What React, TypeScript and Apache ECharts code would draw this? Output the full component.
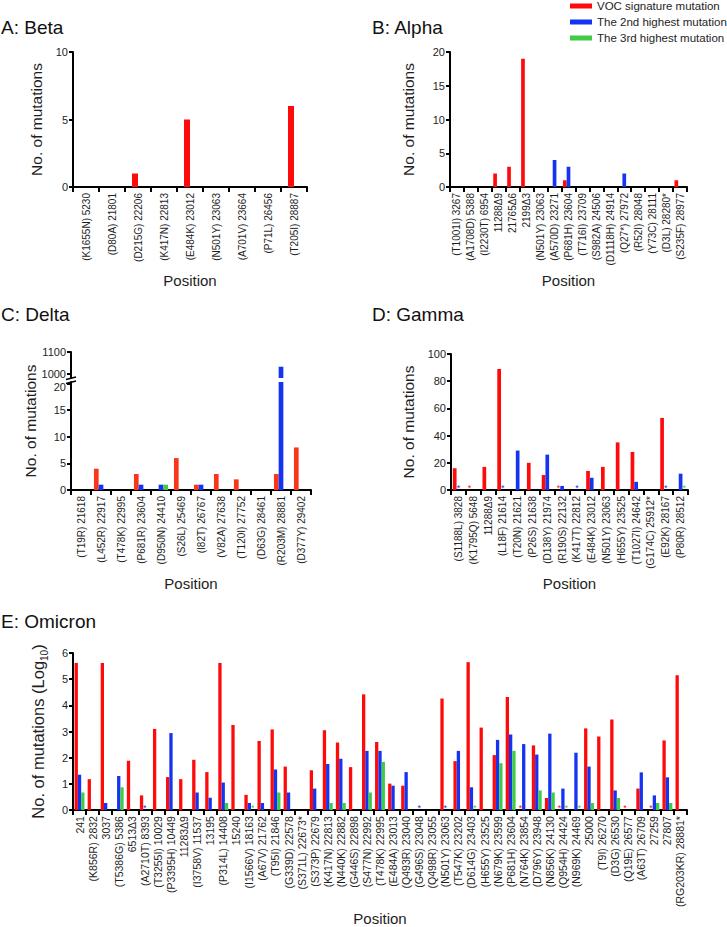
import React, { useEffect, useRef } from 'react';
import * as echarts from 'echarts';

const FONT = 'Liberation Sans, Arial, Helvetica, sans-serif';
const RED = '#ff0a0a';
const RED_DELTA = '#f7361c';
const BLUE = '#1434f2';
const GREEN = '#3fcb45';
const TEXT = '#1e1e1e';
const NAMES = ['VOC signature mutation', 'The 2nd highest mutation', 'The 3rd highest mutation'];

// ---------- A: Beta ----------
const betaCats = ['(K1655N) 5230', '(D80A) 21801', '(D215G) 22206', '(K417N) 22813', '(E484K) 23012', '(N501Y) 23063', '(A701V) 23664', '(P71L) 26456', '(T205I) 28887'];
const betaVOC = [0, 0, 1, 0, 5, 0, 0, 0, 6];
const betaSecond = [0, 0, 0, 0, 0, 0, 0, 0, 0];

// ---------- B: Alpha ----------
const alphaCats = ['(T1001I) 3267', '(A1708D) 5388', '(I2230T) 6954', '11288Δ9', '21765Δ6', '2199Δ3', '(N501Y) 23063', '(A570D) 23271', '(P681H) 23604', '(T716I) 23709', '(S982A) 24506', '(D1118H) 24914', '(Q27*) 27972', '(R52I) 28048', '(Y73C) 28111', '(D3L) 28280*', '(S235F) 28977'];
const alphaVOC = [0, 0, 0, 2, 3, 19, 0, 0, 1, 0, 0, 0, 0, 0, 0, 0, 1];
const alphaSecond = [0, 0, 0, 0, 0, 0, 0, 4, 3, 0, 0, 0, 2, 0, 0, 0, 0];
const alphaThird = [0, 0, 0, 0, 0, 0, 0, 0, 0, 0, 0, 0, 0, 0, 0, 0, 0];

// ---------- C: Delta ----------
const deltaCats = ['(T19R) 21618', '(L452R) 22917', '(T478K) 22995', '(P681R) 23604', '(D950N) 24410', '(S26L) 25469', '(I82T) 26767', '(V82A) 27638', '(T120I) 27752', '(D63G) 28461', '(R203M) 28881', '(D377Y) 29402'];
const deltaVOC = [0, 4, 0, 3, 0, 6, 1, 3, 2, 0, 3, 8];
const deltaSecond = [0, 1, 0, 1, 1, 0, 1, 0, 0, 0, 1032, 0];
const deltaThird = [0, 0, 0, 0, 1, 0, 0, 0, 0, 0, 0, 0];
const deltaUpperTicks = [1000, 1100];
const deltaLowerTicks = [0, 5, 10, 15, 20];

// ---------- D: Gamma ----------
const gammaCats = ['(S1188L) 3828', '(K1795Q) 5648', '11288Δ9', '(L18F) 21614', '(T20N) 21621', '(P26S) 21638', '(D138Y) 21974', '(R190S) 22132', '(K417T) 22812', '(E484K) 23012', '(N501Y) 23063', '(H655Y) 23525', '(T1027I) 24642', '(G174C) 25912*', '(E92K) 28167', '(P80R) 28512'];
const gammaVOC = [16, 0, 17, 89, 0, 20, 11, 0, 0, 14, 17, 35, 28, 0, 53, 0];
const gammaSecond = [0, 0, 0, 0, 29, 0, 26, 3, 0, 9, 0, 0, 6, 0, 0, 12];
const gammaThird = [0, 0, 0, 0, 0, 0, 0, 0, 0, 0, 0, 0, 0, 0, 0, 0];
const gammaRedStars = ['(K1795Q) 5648', '(R190S) 22132'];
const gammaBlueStars = ['(S1188L) 3828', '(L18F) 21614', '(K417T) 22812', '(E92K) 28167'];
const gammaGreenStars = ['(P80R) 28512'];

// ---------- E: Omicron ----------
const omicronCats = ['241', '(K856R) 2832', '3037', '(T5386G) 5386', '6513Δ3', '(A2710T) 8393', '(T3255I) 10029', '(P3395H) 10449', '11283Δ9', '(I3758V) 11537', '13195', '(P314L) 14408', '15240', '(I1566V) 18163', '(A67V) 21762', '(T95I) 21846', '(G339D) 22578', '(S371L) 22673*', '(S373P) 22679', '(K417N) 22813', '(N440K) 22882', '(G446S) 22898', '(S477N) 22992', '(T478K) 22995', '(E484A) 23013', '(Q493R) 23040', '(G496S) 23048', '(Q498R) 23055', '(N501Y) 23063', '(T547K) 23202', '(D614G) 23403', '(H655Y) 23525', '(N679K) 23599', '(P681H) 23604', '(N764K) 23854', '(D796Y) 23948', '(N856K) 24130', '(Q954H) 24424', '(N969K) 24469', '25000', '(T9I) 26270', '(D3G) 26530', '(Q19E) 26577', '(A63T) 26709', '27259', '27807', '(RG203KR) 28881*'];
const omicronVOC = [5.62, 1.18, 5.62, 0, 1.88, 0.56, 3.1, 1.26, 1.18, 1.92, 1.45, 5.62, 3.25, 0.58, 2.64, 3.08, 1.66, 0, 1.52, 3.05, 2.58, 1.64, 4.42, 2.6, 1.01, 0.93, 0, 0, 4.26, 1.87, 5.65, 3.15, 2.1, 4.32, 0, 2.47, 0.46, 0, 0, 3.12, 2.81, 3.46, 0, 0.82, 0, 2.66, 5.15];
const omicronSecond = [1.35, 0, 0.27, 1.3, 0, 0, 0, 2.94, 0, 0.67, 0.47, 1.05, 0, 0.27, 0.27, 1.55, 0.67, 0, 0.82, 1.76, 1.96, 0, 2.26, 2.26, 0.93, 1.45, 0, 0, 0, 2.26, 0.87, 0, 2.68, 2.89, 2.52, 2.12, 2.92, 0.82, 2.19, 1.66, 0, 0.75, 0, 1.44, 0.56, 1.25, 0];
const omicronThird = [0.67, 0, 0, 0.87, 0, 0, 0, 0, 0, 0, 0, 0.27, 0, 0, 0, 0.67, 0, 0, 0, 0.27, 0.27, 0, 0.67, 1.84, 0, 0, 0, 0, 0, 0, 0, 0, 1.79, 2.26, 0, 0.75, 0.67, 0, 0, 0.27, 0, 0.46, 0, 0, 0.27, 0.27, 0];
const omicronRedStars = ['(N764K) 23854', '(Q954H) 24424', '(Q19E) 26577', '27259'];
const omicronBlueStars = ['(A2710T) 8393', '(G496S) 23048', '(N501Y) 23063'];
const omicronGreenStars = ['(I1566V) 18163', '(D614G) 23403', '(Q954H) 24424', '(N969K) 24469'];

function barSeries(name: string, color: string, values: (number | string)[], cats: string[], stars: string[], xi: number, yi: number, barWidth: number) {
  return {
    type: 'bar',
    name,
    xAxisIndex: xi,
    yAxisIndex: yi,
    barWidth,
    barGap: '0%',
    clip: true,
    itemStyle: { color },
    data: values.map((v, i) =>
      stars.indexOf(cats[i]) >= 0
        ? { value: v, label: { show: true, formatter: '*', position: 'inside', color, fontSize: 9, fontFamily: FONT, offset: [0, -2] } }
        : v
    ),
  };
}

function xAxis(gridIndex: number, cats: string[], fontSize: number, nameGap: number, show = true) {
  return {
    type: 'category',
    gridIndex,
    data: cats,
    show,
    axisLine: { lineStyle: { color: '#000', width: 2 } },
    axisTick: { show: true, length: 5, lineStyle: { color: '#000', width: 2 } },
    axisLabel: { rotate: 90, interval: 0, fontSize, color: TEXT, fontFamily: FONT, margin: 6 },
    name: show ? 'Position' : '',
    nameLocation: 'middle',
    nameGap,
    nameTextStyle: { fontSize: 15, color: TEXT, fontFamily: FONT },
  };
}

const plainNumber = (v: number) => String(v);

function yAxis(gridIndex: number, min: number, max: number, interval: number, name: string, nameGap: number, extra: any = {}) {
  return {
    type: 'value',
    gridIndex,
    min,
    max,
    interval,
    splitLine: { show: false },
    axisLine: { show: true, lineStyle: { color: '#000', width: 2 } },
    axisTick: { show: true, length: 4, lineStyle: { color: '#000', width: 2 } },
    axisLabel: { fontSize: 11, color: TEXT, fontFamily: FONT, margin: 5, formatter: plainNumber },
    name,
    nameLocation: 'middle',
    nameRotate: 90,
    nameGap,
    nameTextStyle: { fontSize: 15.5, color: TEXT, fontFamily: FONT },
    ...extra,
  };
}

const titleStyle = { fontSize: 19, fontWeight: 'normal', color: '#111', fontFamily: FONT };

export default function App() {
  const ref = useRef<HTMLDivElement>(null);
  useEffect(() => {
    if (!ref.current) return;
    const chart = echarts.init(ref.current, undefined, { renderer: 'svg' });
    const upper = (vals: number[]) => vals.map((v) => (v > 20.3 ? v : '-'));
    const option: any = {
      animation: false,
      textStyle: { fontFamily: FONT },
      title: [
        { text: 'A: Beta', left: 1, top: 18, padding: 0, textStyle: titleStyle },
        { text: 'B: Alpha', left: 372, top: 18, padding: 0, textStyle: titleStyle },
        { text: 'C: Delta', left: 1, top: 305, padding: 0, textStyle: titleStyle },
        { text: 'D: Gamma', left: 372, top: 305, padding: 0, textStyle: titleStyle },
        { text: 'E: Omicron', left: 1, top: 612, padding: 0, textStyle: titleStyle },
      ],
      legend: {
        data: NAMES,
        orient: 'vertical',
        left: 570,
        top: 0,
        padding: 0,
        itemWidth: 22,
        itemHeight: 5,
        itemGap: 4,
        icon: 'rect',
        selectedMode: false,
        textStyle: { fontSize: 11.5, color: TEXT, fontFamily: FONT },
      },
      grid: [
        { left: 73, top: 52, width: 234, height: 135 },
        { left: 450, top: 52, width: 237, height: 135 },
        { left: 71, top: 352, width: 240, height: 26 },
        { left: 71, top: 382, width: 240, height: 108 },
        { left: 451, top: 354, width: 237, height: 136 },
        { left: 73, top: 653, width: 614, height: 170 },
      ],
      xAxis: [
        xAxis(0, betaCats, 10, 85.5),
        xAxis(1, alphaCats, 10, 85.5),
        xAxis(2, deltaCats, 10, 0, false),
        xAxis(3, deltaCats, 10, 85.5),
        xAxis(4, gammaCats, 10, 85.5),
        xAxis(5, omicronCats, 10.5, 86),
      ],
      yAxis: [
        yAxis(0, 0, 10, 5, 'No. of mutations', 29),
        yAxis(1, 0, 20, 5, 'No. of mutations', 34),
        yAxis(2, 980, 1100, 20, '', 0, {
          axisTick: { show: true, length: 4, lineStyle: { color: '#000', width: 2 }, customValues: deltaUpperTicks },
          axisLabel: { fontSize: 11, color: TEXT, fontFamily: FONT, margin: 5, customValues: deltaUpperTicks, formatter: plainNumber },
        }),
        yAxis(3, 0, 20.3, 5, '', 0, {
          axisTick: { show: true, length: 4, lineStyle: { color: '#000', width: 2 }, customValues: deltaLowerTicks },
          axisLabel: {
            fontSize: 11,
            color: TEXT,
            fontFamily: FONT,
            margin: 5,
            customValues: deltaLowerTicks,
            formatter: (v: number) => (v === 20 ? '{d|20}' : String(v)),
            rich: { d: { fontSize: 11, color: TEXT, fontFamily: FONT, padding: [6, 0, 0, 0] } },
          },
        }),
        yAxis(4, 0, 100, 20, 'No. of mutations', 35),
        yAxis(5, 0, 6, 1, '{a|No. of mutations (Log}{b|10}{a|)}', 27, {
          nameTextStyle: {
            fontSize: 16.5,
            color: TEXT,
            fontFamily: FONT,
            rich: {
              a: { fontSize: 16.5, color: TEXT, fontFamily: FONT },
              b: { fontSize: 10, color: TEXT, fontFamily: FONT, verticalAlign: 'bottom', padding: [0, 0, -3, 0] },
            },
          },
        }),
      ],
      series: [
        barSeries(NAMES[0], RED, betaVOC, betaCats, [], 0, 0, 6),
        barSeries(NAMES[1], BLUE, betaSecond, betaCats, [], 0, 0, 6),

        barSeries(NAMES[0], RED, alphaVOC, alphaCats, [], 1, 1, 3.7),
        barSeries(NAMES[1], BLUE, alphaSecond, alphaCats, [], 1, 1, 3.7),
        barSeries(NAMES[2], GREEN, alphaThird, alphaCats, [], 1, 1, 3.7),

        barSeries(NAMES[0], RED_DELTA, upper(deltaVOC), deltaCats, [], 2, 2, 4.7),
        barSeries(NAMES[1], BLUE, upper(deltaSecond), deltaCats, [], 2, 2, 4.7),
        barSeries(NAMES[2], GREEN, upper(deltaThird), deltaCats, [], 2, 2, 4.7),
        barSeries(NAMES[0], RED_DELTA, deltaVOC, deltaCats, [], 3, 3, 4.7),
        barSeries(NAMES[1], BLUE, deltaSecond, deltaCats, [], 3, 3, 4.7),
        barSeries(NAMES[2], GREEN, deltaThird, deltaCats, [], 3, 3, 4.7),

        barSeries(NAMES[0], RED, gammaVOC, gammaCats, gammaRedStars, 4, 4, 3.7),
        barSeries(NAMES[1], BLUE, gammaSecond, gammaCats, gammaBlueStars, 4, 4, 3.7),
        barSeries(NAMES[2], GREEN, gammaThird, gammaCats, gammaGreenStars, 4, 4, 3.7),

        barSeries(NAMES[0], RED, omicronVOC, omicronCats, omicronRedStars, 5, 5, 3.3),
        barSeries(NAMES[1], BLUE, omicronSecond, omicronCats, omicronBlueStars, 5, 5, 3.3),
        barSeries(NAMES[2], GREEN, omicronThird, omicronCats, omicronGreenStars, 5, 5, 3.3),
      ],
      graphic: [
        {
          type: 'text',
          x: 30,
          y: 421,
          rotation: Math.PI / 2,
          style: { text: 'No. of mutations', fontSize: 15.5, fontFamily: FONT, fill: TEXT, align: 'center', verticalAlign: 'middle' },
        },
        { type: 'line', shape: { x1: 66, y1: 379.5, x2: 76, y2: 377 }, style: { stroke: '#000', lineWidth: 1.5 } },
        { type: 'line', shape: { x1: 66, y1: 383.5, x2: 76, y2: 381 }, style: { stroke: '#000', lineWidth: 1.5 } },
      ],
    };
    chart.setOption(option);
    return () => chart.dispose();
  }, []);
  return <div ref={ref} style={{ position: 'absolute', left: 0, top: 0, width: 727, height: 927, background: '#fff' }} />;
}
